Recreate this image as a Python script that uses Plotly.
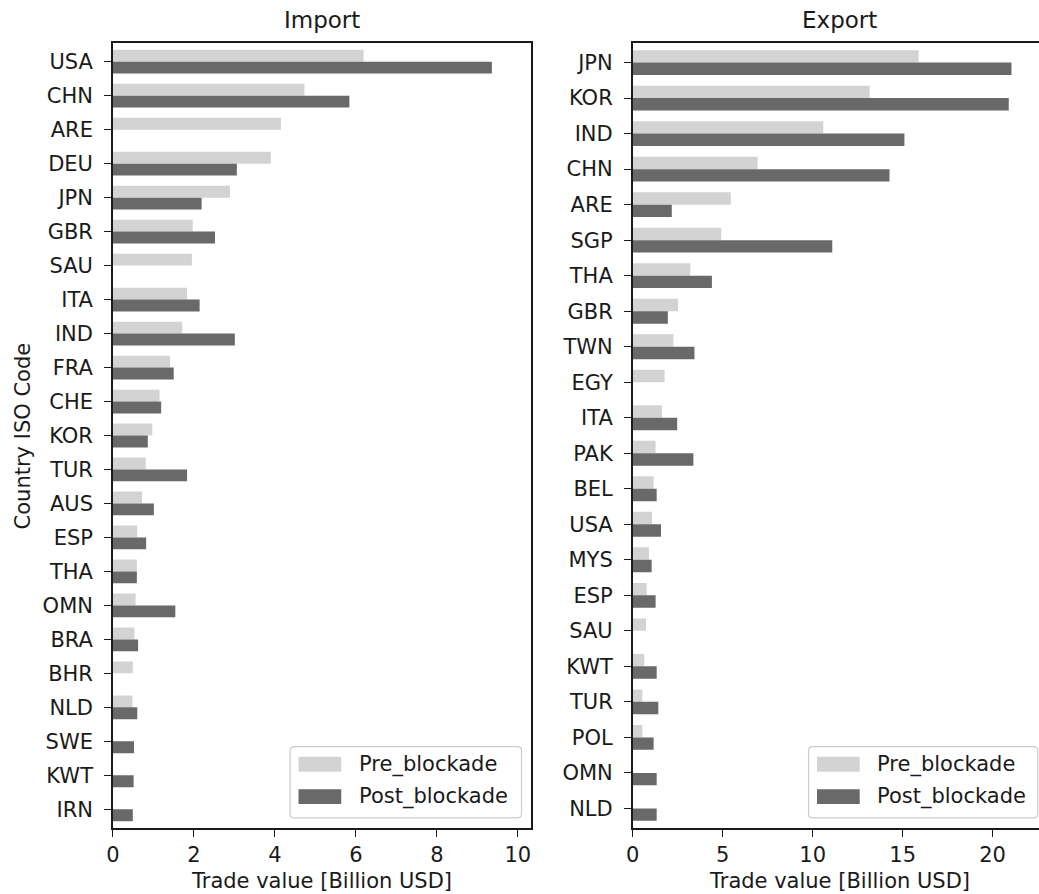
import plotly.graph_objects as go

# ---- data (billion USD) ----
import_countries = ["USA", "CHN", "ARE", "DEU", "JPN", "GBR", "SAU", "ITA", "IND", "FRA",
                    "CHE", "KOR", "TUR", "AUS", "ESP", "THA", "OMN", "BRA", "BHR", "NLD",
                    "SWE", "KWT", "IRN"]
import_pre = [6.19, 4.73, 4.15, 3.90, 2.89, 1.97, 1.95, 1.83, 1.71, 1.41,
              1.15, 0.97, 0.81, 0.72, 0.60, 0.59, 0.56, 0.53, 0.49, 0.48,
              0.0, 0.0, 0.0]
import_post = [9.36, 5.84, 0.0, 3.06, 2.19, 2.52, 0.0, 2.14, 3.01, 1.50,
               1.19, 0.86, 1.83, 1.01, 0.82, 0.59, 1.54, 0.62, 0.0, 0.60,
               0.52, 0.51, 0.49]

export_countries = ["JPN", "KOR", "IND", "CHN", "ARE", "SGP", "THA", "GBR", "TWN", "EGY",
                    "ITA", "PAK", "BEL", "USA", "MYS", "ESP", "SAU", "KWT", "TUR", "POL",
                    "OMN", "NLD"]
export_pre = [15.89, 13.17, 10.59, 6.94, 5.45, 4.92, 3.20, 2.52, 2.26, 1.77,
              1.62, 1.27, 1.16, 1.07, 0.90, 0.77, 0.74, 0.64, 0.53, 0.53,
              0.0, 0.0]
export_post = [21.05, 20.90, 15.10, 14.27, 2.17, 11.09, 4.40, 1.95, 3.43, 0.0,
               2.47, 3.37, 1.33, 1.57, 1.05, 1.27, 0.0, 1.33, 1.42, 1.16,
               1.33, 1.33]

import_xticks = [0, 2, 4, 6, 8, 10]
export_xticks = [0, 5, 10, 15, 20]

PRE_COLOR = "#d3d3d3"
POST_COLOR = "#696969"
FONT = "DejaVu Sans"
W, H = 1039, 894


def fx(px):
    return px / W


def fy(py):
    return 1 - py / H


fig = go.Figure()

fig.add_trace(go.Bar(y=import_countries, x=import_pre, orientation="h", name="Pre_blockade",
                     marker=dict(color=PRE_COLOR, line=dict(width=0)),
                     xaxis="x", yaxis="y", showlegend=False))
fig.add_trace(go.Bar(y=import_countries, x=import_post, orientation="h", name="Post_blockade",
                     marker=dict(color=POST_COLOR, line=dict(width=0)),
                     xaxis="x", yaxis="y", showlegend=False))
fig.add_trace(go.Bar(y=export_countries, x=export_pre, orientation="h", name="Pre_blockade",
                     marker=dict(color=PRE_COLOR, line=dict(width=0)),
                     xaxis="x2", yaxis="y2", showlegend=False))
fig.add_trace(go.Bar(y=export_countries, x=export_post, orientation="h", name="Post_blockade",
                     marker=dict(color=POST_COLOR, line=dict(width=0)),
                     xaxis="x2", yaxis="y2", showlegend=False))

axis_common = dict(
    showgrid=False, zeroline=False, showline=True, linecolor="#1a1a1a", linewidth=1.6,
    ticks="outside", ticklen=7, tickwidth=1.4, tickcolor="#1a1a1a",
    tickfont=dict(family=FONT, size=21, color="#1a1a1a"),
)

y_dom = [fy(828.3), fy(42.7)]
left_dom = [fx(106.7), fx(527.3)]
right_dom = [fx(630), 1.0]

fig.update_layout(
    width=W, height=H,
    margin=dict(l=0, r=0, t=0, b=0, pad=0),
    paper_bgcolor="white", plot_bgcolor="white",
    barmode="group", bargap=0.3, bargroupgap=0,
    font=dict(family=FONT, color="#1a1a1a"),
    xaxis=dict(domain=left_dom, anchor="y", range=[0, 10.32], tickmode="array",
               tickvals=import_xticks, mirror=True, ticklabelstandoff=0, **axis_common),
    yaxis=dict(domain=y_dom, anchor="x", type="category", categoryorder="array",
               categoryarray=import_countries, range=[len(import_countries) - 0.44, -0.56],
               mirror=True, ticklabelstandoff=7, **axis_common),
    xaxis2=dict(domain=right_dom, anchor="y2", range=[0, 22.58], tickmode="array",
                tickvals=export_xticks, mirror=True, ticklabelstandoff=0, **axis_common),
    yaxis2=dict(domain=y_dom, anchor="x2", type="category", categoryorder="array",
                categoryarray=export_countries, range=[len(export_countries) - 0.44, -0.56],
                mirror=False, ticklabelstandoff=7, **axis_common),
)

annotations = []
shapes = []

# panel titles and axis titles
left_cx, right_cx = 317, 838.5
for cx, title in [(left_cx, "Import"), (right_cx, "Export")]:
    annotations.append(dict(x=fx(cx), y=fy(20), xref="paper", yref="paper", text=title,
                            showarrow=False, xanchor="center", yanchor="middle",
                            font=dict(family=FONT, size=23, color="#1a1a1a")))
    annotations.append(dict(x=fx(cx), y=fy(881), xref="paper", yref="paper",
                            text="Trade value [Billion USD]", showarrow=False,
                            xanchor="center", yanchor="middle",
                            font=dict(family=FONT, size=21, color="#1a1a1a")))
annotations.append(dict(x=fx(16), y=fy(435.5), xref="paper", yref="paper",
                        text="Country ISO Code", textangle=-90, showarrow=False,
                        xanchor="center", yanchor="middle",
                        font=dict(family=FONT, size=21, color="#1a1a1a")))


def rounded_rect(x0, y0, x1, y1, r):
    pts = [
        f"M{fx(x0 + r)},{fy(y0)}",
        f"L{fx(x1 - r)},{fy(y0)}",
        f"Q{fx(x1)},{fy(y0)} {fx(x1)},{fy(y0 + r)}",
        f"L{fx(x1)},{fy(y1 - r)}",
        f"Q{fx(x1)},{fy(y1)} {fx(x1 - r)},{fy(y1)}",
        f"L{fx(x0 + r)},{fy(y1)}",
        f"Q{fx(x0)},{fy(y1)} {fx(x0)},{fy(y1 - r)}",
        f"L{fx(x0)},{fy(y0 + r)}",
        f"Q{fx(x0)},{fy(y0)} {fx(x0 + r)},{fy(y0)}",
        "Z",
    ]
    return " ".join(pts)


# legend boxes (one per panel)
for box_x0, box_x1 in [(285, 518), (807, 1037.7)]:
    shapes.append(dict(type="path", xref="paper", yref="paper",
                       path=rounded_rect(box_x0, 746.7, box_x1, 817.8, 4),
                       line=dict(color="#cccccc", width=1.2),
                       fillcolor="rgba(255,255,255,0.85)", layer="above"))
    sw_x0 = box_x0 + 8.5
    for (sy0, sy1, color, label, ty) in [(756.7, 771.7, PRE_COLOR, "Pre_blockade", 764),
                                          (789.3, 804.0, POST_COLOR, "Post_blockade", 796.7)]:
        shapes.append(dict(type="rect", xref="paper", yref="paper",
                           x0=fx(sw_x0), x1=fx(sw_x0 + 43), y0=fy(sy1), y1=fy(sy0),
                           fillcolor=color, line=dict(width=0), layer="above"))
        annotations.append(dict(x=fx(box_x0 + 67), y=fy(ty), xref="paper", yref="paper",
                                text=label, showarrow=False, xanchor="left", yanchor="middle",
                                font=dict(family=FONT, size=21, color="#1a1a1a")))

fig.update_layout(annotations=annotations, shapes=shapes)

fig.write_html("out.html")
